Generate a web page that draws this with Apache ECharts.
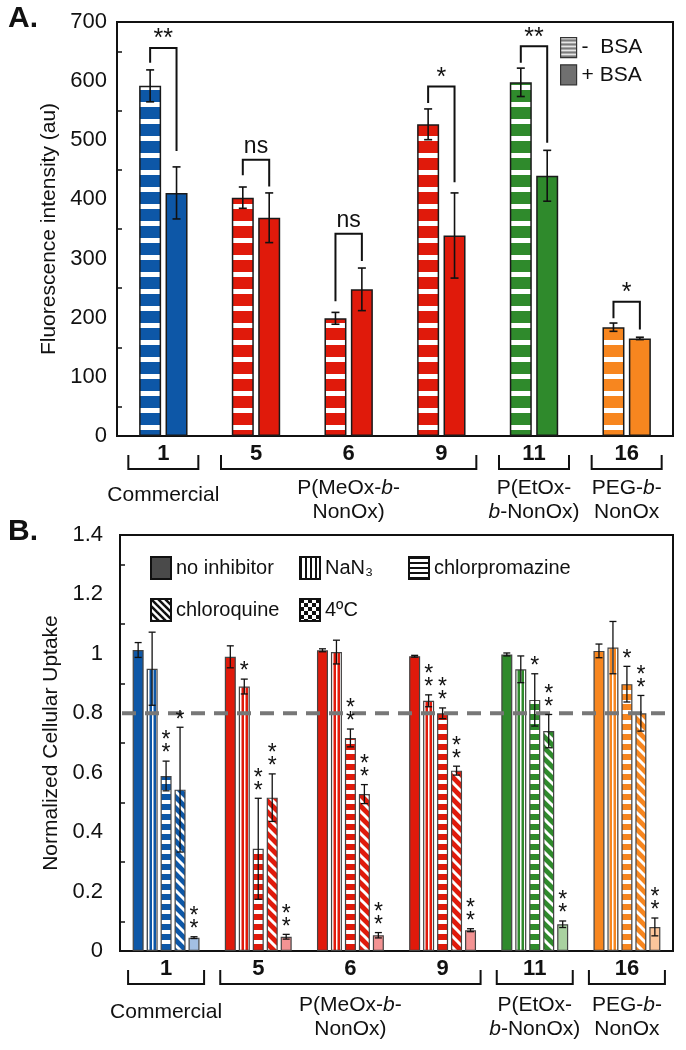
<!DOCTYPE html>
<html>
<head>
<meta charset="utf-8">
<script src="https://cdn.jsdelivr.net/npm/echarts@6/dist/echarts.min.js"></script>
<style>html,body{margin:0;padding:0;background:#fff}#c{width:686px;height:1050px}</style>
</head>
<body>
<div id="c"></div>
<script>
// ---------------- DATA ----------------
const categories = ['1', '5', '6', '9', '11', '16'];

// Panel A: fluorescence intensity (au)
const minusBSA    = [592, 403, 199, 527, 598, 184];
const minusBSAErr = [27, 18, 10, 26, 24, 7];
const plusBSA     = [411, 369, 248, 339, 440, 165];
const plusBSAErr  = [44, 42, 36, 72, 43, 2];
const sigLabels   = ['**', 'ns', 'ns', '*', '**', '*'];
const sigTop      = [656, 467, 342, 591, 659, 227];
const sigLeftEnd  = [631, 441, 228, 563, 631, 199];
const sigRightEnd = [482, 422, 296, 429, 496, 180];

// Panel B: normalized cellular uptake
const noInhibitor      = [1.013, 0.99, 1.012, 0.992, 0.998, 1.01];
const noInhibitorErr   = [0.025, 0.037, 0.005, 0.003, 0.005, 0.023];
const nan3             = [0.95, 0.89, 1.006, 0.842, 0.948, 1.021];
const nan3Err          = [0.123, 0.025, 0.04, 0.02, 0.045, 0.088];
const chlorpromazine   = [0.589, 0.344, 0.717, 0.8, 0.845, 0.898];
const chlorpromazineErr= [0.05, 0.17, 0.03, 0.018, 0.088, 0.06];
const chloroquine      = [0.543, 0.516, 0.528, 0.607, 0.74, 0.8];
const chloroquineErr   = [0.21, 0.08, 0.032, 0.015, 0.056, 0.06];
const cold4C           = [0.045, 0.048, 0.053, 0.07, 0.09, 0.081];
const cold4CErr        = [0.003, 0.008, 0.009, 0.005, 0.011, 0.03];
const starsNoInhibitor   = [0, 0, 0, 0, 0, 0];
const starsNaN3          = [0, 1, 0, 2, 0, 0];
const starsChlorpromazine= [2, 2, 2, 2, 1, 1];
const starsChloroquine   = [1, 2, 2, 2, 2, 2];
const starsCold          = [2, 2, 2, 2, 2, 2];
const refLine = [0.8];

const groups = [
  {from: 0, to: 0, label: 'Commercial'},
  {from: 1, to: 3, label: 'P(MeOx-{i|b}-\nNonOx)'},
  {from: 4, to: 4, label: 'P(EtOx-\n{i|b}-NonOx)'},
  {from: 5, to: 5, label: 'PEG-{i|b}-\nNonOx'}
];

// ---------------- STYLE ----------------
const FONT = '"Liberation Sans", Arial, Helvetica, sans-serif';
const baseColors = ['#0d57a7', '#e01a0b', '#e01a0b', '#e01a0b', '#2f8a2c', '#f7861f'];
const paleColors = ['#a3bfe3', '#f39393', '#f39393', '#f39393', '#a9d1a0', '#fcc69b'];

function tile(w, h, draw) {
  const c = document.createElement('canvas');
  c.width = w; c.height = h;
  draw(c.getContext('2d'), w, h);
  return {image: c, repeat: 'repeat'};
}
function hStripes(bg, fg, period, thick) {
  return tile(4, period, (x, w, h) => { x.fillStyle = bg; x.fillRect(0, 0, w, h); x.fillStyle = fg; x.fillRect(0, 0, w, thick); });
}
function vStripes(bg, fg, period, thick) {
  return tile(period, 4, (x, w, h) => { x.fillStyle = bg; x.fillRect(0, 0, w, h); x.fillStyle = fg; x.fillRect(0, 0, thick, h); });
}
function dStripes(bg, fg, s, thick) {
  return tile(s, s, (x, w, h) => {
    x.fillStyle = bg; x.fillRect(0, 0, w, h);
    x.strokeStyle = fg; x.lineWidth = thick;
    for (const k of [-1, 0, 1]) { x.beginPath(); x.moveTo(k * s - 2, -2); x.lineTo(k * s + s + 2, s + 2); x.stroke(); }
  });
}
function checker(bg, fg, cell) {
  return tile(cell * 2, cell * 2, (x) => { x.fillStyle = bg; x.fillRect(0, 0, cell * 2, cell * 2); x.fillStyle = fg; x.fillRect(0, 0, cell, cell); x.fillRect(cell, cell, cell, cell); });
}

const chart = echarts.init(document.getElementById('c'), null, {renderer: 'canvas'});

const BW_A = 22, GAP_A = 0.2, BW_B = 11, GAP_B = 0.27;
const offA = (BW_A * (1 + GAP_A)) / 2;
const offB = k => (k - 2) * BW_B * (1 + GAP_B);

function errorSeries(grid, vals, errs, dx, cap, lw, stars) {
  return {
    type: 'custom', xAxisIndex: grid, yAxisIndex: grid, z: 6, silent: true,
    data: vals.map((v, i) => [i, v, errs[i]]),
    renderItem: (p, api) => {
      const i = api.value(0), v = api.value(1), e = api.value(2);
      const t = api.coord([i, v + e]), b = api.coord([i, v - e]);
      const x = t[0] + dx;
      const st = {stroke: '#111', lineWidth: lw};
      const ch = [
        {type: 'line', shape: {x1: x, y1: t[1], x2: x, y2: b[1]}, style: st},
        {type: 'line', shape: {x1: x - cap, y1: t[1], x2: x + cap, y2: t[1]}, style: st},
        {type: 'line', shape: {x1: x - cap, y1: b[1], x2: x + cap, y2: b[1]}, style: st}
      ];
      const n = stars ? stars[p.dataIndex] : 0;
      for (let j = 0; j < n; j++) {
        ch.push({type: 'text', x: x, y: t[1] - 13 * (j + 1) + 6,
          style: {text: '*', fontSize: 23, fontFamily: FONT, fill: '#111', align: 'center', verticalAlign: 'middle'}});
      }
      return {type: 'group', children: ch};
    }
  };
}

const barBorderA = {borderColor: '#1a1a1a', borderWidth: 1.5};
const barBorderB = {borderColor: '#444', borderWidth: 1.2};

const option = {
  animation: false,
  textStyle: {fontFamily: FONT},
  grid: [
    {left: 117, top: 22, width: 556, height: 414, show: true, borderColor: '#111', borderWidth: 2},
    {left: 120, top: 535, width: 553, height: 416, show: true, borderColor: '#111', borderWidth: 2}
  ],
  legend: [
    {orient: 'vertical', left: 555, top: 32, itemWidth: 16, itemHeight: 20, itemGap: 6, icon: 'rect',
     data: ['-  BSA', '+ BSA'], textStyle: {fontSize: 21, color: '#111'}, itemStyle: {borderColor: '#333', borderWidth: 1.2}},
    {orient: 'vertical', left: 145, top: 551, itemWidth: 20, itemHeight: 22, itemGap: 18, icon: 'rect',
     data: ['no inhibitor', 'chloroquine'], textStyle: {fontSize: 20, color: '#111'}, itemStyle: {borderColor: '#111', borderWidth: 2}},
    {orient: 'vertical', left: 294, top: 551, itemWidth: 20, itemHeight: 22, itemGap: 18, icon: 'rect',
     data: ['NaN₃', '4ºC'], textStyle: {fontSize: 20, color: '#111'}, itemStyle: {borderColor: '#111', borderWidth: 2}},
    {orient: 'vertical', left: 403, top: 551, itemWidth: 20, itemHeight: 22, itemGap: 18, icon: 'rect',
     data: ['chlorpromazine'], textStyle: {fontSize: 20, color: '#111'}, itemStyle: {borderColor: '#111', borderWidth: 2}}
  ],
  xAxis: [0, 1].map(g => ({
    type: 'category', gridIndex: g, data: categories,
    axisTick: {show: false},
    axisLine: {lineStyle: {color: '#111', width: 2}},
    axisLabel: {fontSize: 22, fontWeight: 'bold', color: '#111', margin: 7}
  })),
  yAxis: [
    {type: 'value', gridIndex: 0, min: 0, max: 700, interval: 100,
     name: 'Fluorescence intensity (au)', nameLocation: 'middle', nameGap: 51,
     nameTextStyle: {fontSize: 21, color: '#111'},
     axisLine: {show: true, lineStyle: {color: '#111', width: 2}},
     axisTick: {show: false, inside: true},
     minorTick: {show: true, splitNumber: 2, length: 5, lineStyle: {color: '#111', width: 1.5}},
     splitLine: {show: false},
     axisLabel: {fontSize: 22, color: '#111', margin: 10}},
    {type: 'value', gridIndex: 1, min: 0, max: 1.4, interval: 0.2,
     name: 'Normalized Cellular Uptake', nameLocation: 'middle', nameGap: 54,
     nameTextStyle: {fontSize: 21, color: '#111'},
     axisLine: {show: true, lineStyle: {color: '#111', width: 2}},
     axisTick: {show: false, inside: true},
     minorTick: {show: true, splitNumber: 2, length: 5, lineStyle: {color: '#111', width: 1.5}},
     splitLine: {show: false},
     axisLabel: {fontSize: 22, color: '#111', margin: 17}}
  ],
  series: [
    {type: 'bar', name: '-  BSA', xAxisIndex: 0, yAxisIndex: 0, barWidth: BW_A, barGap: (GAP_A * 100) + '%', z: 2,
     itemStyle: Object.assign({color: hStripes('#7a7a7a', '#ffffff', 4, 1.5)}, barBorderA),
     data: minusBSA.map((v, i) => ({value: v, itemStyle: {color: hStripes(baseColors[i], '#ffffff', 17, 5)}}))},
    {type: 'bar', name: '+ BSA', xAxisIndex: 0, yAxisIndex: 0, barWidth: BW_A, barGap: (GAP_A * 100) + '%', z: 2,
     itemStyle: Object.assign({color: '#707070'}, barBorderA),
     data: plusBSA.map((v, i) => ({value: v, itemStyle: {color: baseColors[i]}}))},
    errorSeries(0, minusBSA, minusBSAErr, -offA, 4, 1.6, null),
    errorSeries(0, plusBSA, plusBSAErr, offA, 4, 1.6, null),
    {type: 'custom', xAxisIndex: 0, yAxisIndex: 0, z: 7, silent: true,
     data: categories.map((c, i) => [i, sigTop[i], sigLeftEnd[i], sigRightEnd[i]]),
     renderItem: (p, api) => {
       const i = api.value(0);
       const cx = api.coord([i, 0])[0];
       const yt = api.coord([i, api.value(1)])[1];
       const yl = api.coord([i, api.value(2)])[1];
       const yr = api.coord([i, api.value(3)])[1];
       const lab = sigLabels[p.dataIndex];
       const isStar = lab.indexOf('*') >= 0;
       return {type: 'group', children: [
         {type: 'polyline', shape: {points: [[cx - offA, yl], [cx - offA, yt], [cx + offA, yt], [cx + offA, yr]]},
          style: {stroke: '#111', lineWidth: 2, fill: null}},
         {type: 'text', x: cx, y: isStar ? yt + 4 : yt - 2,
          style: {text: lab, fontSize: isStar ? 25 : 23, fontFamily: FONT, fill: '#111', align: 'center', verticalAlign: 'bottom'}}
       ]};
     }},

    {type: 'bar', name: 'no inhibitor', xAxisIndex: 1, yAxisIndex: 1, barWidth: BW_B, barGap: (GAP_B * 100) + '%', z: 2,
     itemStyle: Object.assign({color: '#4a4a4a'}, barBorderB),
     data: noInhibitor.map((v, i) => ({value: v, itemStyle: {color: baseColors[i]}}))},
    {type: 'bar', name: 'NaN₃', xAxisIndex: 1, yAxisIndex: 1, barWidth: BW_B, barGap: (GAP_B * 100) + '%', z: 2,
     itemStyle: Object.assign({color: vStripes('#ffffff', '#111111', 5, 2)}, barBorderB),
     data: nan3.map((v, i) => ({value: v, itemStyle: {color: vStripes(baseColors[i], '#ffffff', 4, 1.5)}}))},
    {type: 'bar', name: 'chlorpromazine', xAxisIndex: 1, yAxisIndex: 1, barWidth: BW_B, barGap: (GAP_B * 100) + '%', z: 2,
     itemStyle: Object.assign({color: hStripes('#ffffff', '#111111', 5, 2)}, barBorderB),
     data: chlorpromazine.map((v, i) => ({value: v, itemStyle: {color: hStripes(baseColors[i], '#ffffff', 10, 4)}}))},
    {type: 'bar', name: 'chloroquine', xAxisIndex: 1, yAxisIndex: 1, barWidth: BW_B, barGap: (GAP_B * 100) + '%', z: 2,
     itemStyle: Object.assign({color: dStripes('#ffffff', '#111111', 7, 2.5)}, barBorderB),
     data: chloroquine.map((v, i) => ({value: v, itemStyle: {color: dStripes(baseColors[i], '#ffffff', 11, 3)}}))},
    {type: 'bar', name: '4ºC', xAxisIndex: 1, yAxisIndex: 1, barWidth: BW_B, barGap: (GAP_B * 100) + '%', z: 2,
     itemStyle: Object.assign({color: checker('#ffffff', '#111111', 4)}, barBorderB),
     data: cold4C.map((v, i) => ({value: v, itemStyle: {color: paleColors[i]}}))},
    errorSeries(1, noInhibitor, noInhibitorErr, offB(0), 3.5, 1.3, starsNoInhibitor),
    errorSeries(1, nan3, nan3Err, offB(1), 3.5, 1.3, starsNaN3),
    errorSeries(1, chlorpromazine, chlorpromazineErr, offB(2), 3.5, 1.3, starsChlorpromazine),
    errorSeries(1, chloroquine, chloroquineErr, offB(3), 3.5, 1.3, starsChloroquine),
    errorSeries(1, cold4C, cold4CErr, offB(4), 3.5, 1.3, starsCold),
    {type: 'custom', xAxisIndex: 1, yAxisIndex: 1, z: 5, silent: true,
     data: refLine.map(v => [0, v]),
     renderItem: (p, api) => {
       const y = api.coord([0, api.value(1)])[1];
       const cs = p.coordSys;
       return {type: 'line', shape: {x1: cs.x + 2, y1: y, x2: cs.x + cs.width - 2, y2: y},
               style: {stroke: '#777', lineWidth: 4, lineDash: [14, 9]}};
     }}
  ]
};

chart.setOption(option);

// group brackets and names below the category labels
const g = [
  {type: 'text', x: 8, y: 4, style: {text: 'A.', fontSize: 30, fontWeight: 'bold', fontFamily: FONT, fill: '#111'}},
  {type: 'text', x: 8, y: 517, style: {text: 'B.', fontSize: 30, fontWeight: 'bold', fontFamily: FONT, fill: '#111'}}
];
const setups = [
  {axis: 0, legTop: 455, legBot: 469, top2: 476, top1: 483, half: 35},
  {axis: 1, legTop: 970, legBot: 984, top2: 993, top1: 1000, half: 38}
];
setups.forEach(s => groups.forEach(gr => {
  const x0 = chart.convertToPixel({xAxisIndex: s.axis}, gr.from) - s.half;
  const x1 = chart.convertToPixel({xAxisIndex: s.axis}, gr.to) + s.half;
  g.push({type: 'polyline', shape: {points: [[x0, s.legTop], [x0, s.legBot], [x1, s.legBot], [x1, s.legTop]]},
          style: {stroke: '#111', lineWidth: 2, fill: null}});
  const two = gr.label.indexOf('\n') >= 0;
  g.push({type: 'text', x: (x0 + x1) / 2, y: two ? s.top2 : s.top1,
          style: {text: gr.label, fontSize: 21, fontFamily: FONT, fill: '#111', align: 'center', verticalAlign: 'top', lineHeight: 24,
                  rich: {i: {fontStyle: 'italic', fontSize: 21, fontFamily: FONT, fill: '#111', lineHeight: 24}}}});
}));
chart.setOption({graphic: g});
</script>
</body>
</html>
